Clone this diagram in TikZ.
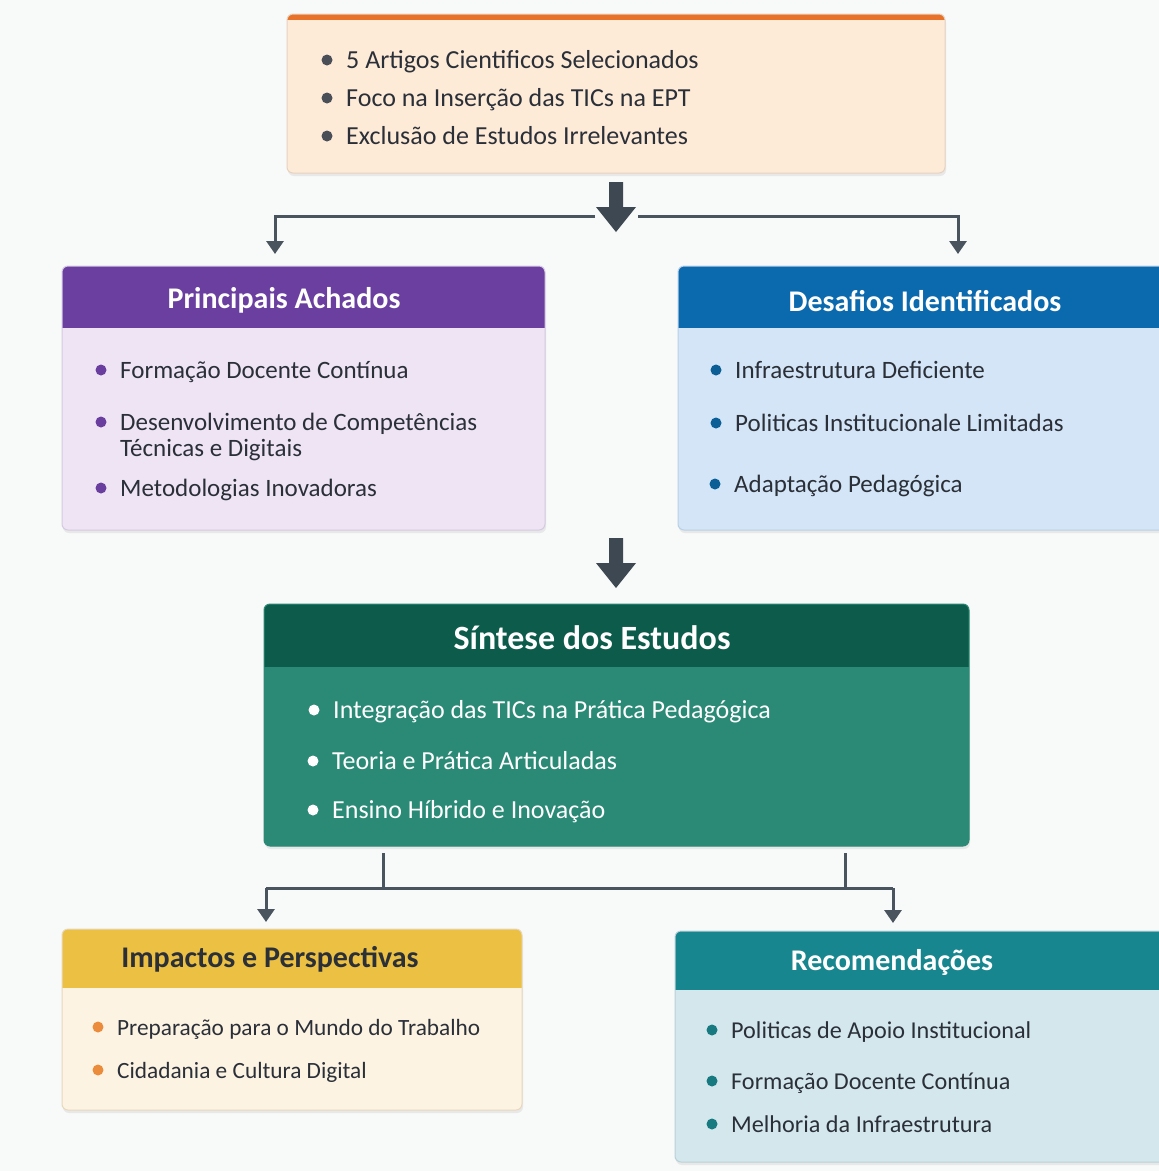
\documentclass[tikz,border=0pt]{standalone}
\usepackage{fontspec}
\setmainfont{Carlito}
\usetikzlibrary{arrows.meta,fit}
\definecolor{bgc}{HTML}{F8F9F9}
\definecolor{arrc}{HTML}{3E4852}
\definecolor{linec}{HTML}{4A545E}
\definecolor{txtc}{HTML}{2A2F38}
\definecolor{orbar}{HTML}{E8722A}
\definecolor{peach}{HTML}{FDEBD8}
\definecolor{peachb}{HTML}{E6D2C0}
\definecolor{purh}{HTML}{6B3FA0}
\definecolor{purb}{HTML}{EEE4F4}
\definecolor{purbd}{HTML}{D6C9E2}
\definecolor{purbul}{HTML}{6A3E9E}
\definecolor{bluh}{HTML}{0B6AAE}
\definecolor{blub}{HTML}{D3E5F6}
\definecolor{blubd}{HTML}{B9D0E6}
\definecolor{blubul}{HTML}{0B5E96}
\definecolor{grnh}{HTML}{0D5C4B}
\definecolor{grnb}{HTML}{2B8A76}
\definecolor{goldh}{HTML}{ECC042}
\definecolor{goldb}{HTML}{FDF3E2}
\definecolor{goldbd}{HTML}{E8D8BC}
\definecolor{orbul}{HTML}{EA8C3B}
\definecolor{tealh}{HTML}{17868E}
\definecolor{tealb}{HTML}{D3E7EC}
\definecolor{tealbd}{HTML}{B8D2D8}
\definecolor{tealbul}{HTML}{167A80}
\tikzset{
  ttl/.style={font=\fontsize{30}{34}\selectfont\bfseries, text=white, inner sep=0pt},
  itm/.style={font=\fontsize{25}{30}\selectfont, text=txtc, anchor=base west, inner sep=0pt},
  conn/.style={draw=linec, line width=3pt},
  connarr/.style={draw=linec, line width=3pt, -{Triangle[width=17pt,length=13pt]}},
}
\newcommand\setitemsize[1]{\tikzset{itm/.append style={font=\fontsize{#1}{30}\selectfont}}}
\newcommand\cardbox[9]{%
  \fill[black!9,rounded corners=6pt] (#2+1,#3+3) rectangle (#4+1,#5+3);
  \path (#2,#3) coordinate (#1-nw) (#4,#5) coordinate (#1-se);
  \node[fit=(#1-nw)(#1-se), inner sep=0pt, outer sep=0pt, fill=#7, rounded corners=6pt] (#1) {};
  \begin{scope}
    \clip[rounded corners=6pt] (#1.south west) rectangle (#1.north east);
    \fill[#8] (#1.north west) rectangle ([yshift=-#6pt]#1.north east);
  \end{scope}
  \draw[#9, line width=1pt, rounded corners=6pt] (#1.south west) rectangle (#1.north east);
}
\newcommand\bulit[5]{% name, bullet colour, x, y(center), text
  \fill[#2] (#3-19,#4) circle (5.5pt);
  \node[itm] (#1) at (#3,#4+8) {#5};
}
\newcommand\blockarr[3]{% x, ytop, ybot
  \fill[arrc] (#1-7,#2) -- (#1+7,#2) -- (#1+7,#3-25) -- (#1+20,#3-25) -- (#1,#3) -- (#1-20,#3-25) -- (#1-7,#3-25) -- cycle;
}
\begin{document}
\begin{tikzpicture}[x=1pt,y=-1pt]
\clip (0,0) rectangle (1159,1171);
\fill[bgc] (0,0) rectangle (1159,1171);

% top box
\cardbox{top}{287}{14}{945}{173}{6}{peach}{orbar}{peachb}
\setitemsize{26}
\bulit{t1}{txtc!85}{346}{60}{5 Artigos Cientificos Selecionados}
\bulit{t2}{txtc!85}{346}{98}{Foco na Inserção das TICs na EPT}
\bulit{t3}{txtc!85}{346}{136}{Exclusão de Estudos Irrelevantes}

% principais achados
\cardbox{pa}{62}{266}{545}{530}{62}{purb}{purh}{purbd}
\node[ttl] (pat) at (284,300) {Principais Achados};
\setitemsize{25}
\bulit{pa1}{purbul}{120}{370}{Formação Docente Contínua}
\bulit{pa2}{purbul}{120}{422}{Desenvolvimento de Competências}
\node[itm] (pa2b) at (120,456) {Técnicas e Digitais};
\bulit{pa3}{purbul}{120}{488}{Metodologias Inovadoras}

% desafios
\cardbox{de}{678}{266}{1175}{530}{62}{blub}{bluh}{blubd}
\node[ttl] (det) at (925,301) {Desafios Identificados};
\bulit{de1}{blubul}{735}{370}{Infraestrutura Deficiente}
\bulit{de2}{blubul}{735}{423}{Politicas Institucionale Limitadas}
\bulit{de3}{blubul}{734}{484}{Adaptação Pedagógica}

% sintese
\cardbox{si}{264}{604}{969}{846}{63}{grnb}{grnh}{grnb}
\node[ttl, font=\fontsize{34}{38}\selectfont\bfseries] (sit) at (592,638) {Síntese dos Estudos};
\setitemsize{26}
\tikzset{itm/.append style={text=white}}
\bulit{si1}{white}{333}{710}{Integração das TICs na Prática Pedagógica}
\bulit{si2}{white}{332}{761}{Teoria e Prática Articuladas}
\bulit{si3}{white}{332}{810}{Ensino Híbrido e Inovação}
\tikzset{itm/.append style={text=txtc}}

% impactos
\cardbox{im}{62}{929}{522}{1110}{59}{goldb}{goldh}{goldbd}
\node[ttl, text=txtc] (imt) at (270,959) {Impactos e Perspectivas};
\setitemsize{23.3}
\bulit{im1}{orbul}{117}{1027}{Preparação para o Mundo do Trabalho}
\bulit{im2}{orbul}{117}{1070}{Cidadania e Cultura Digital}

% recomendacoes
\cardbox{re}{675}{931}{1175}{1162}{59}{tealb}{tealh}{tealbd}
\node[ttl] (ret) at (892,962) {Recomendações};
\setitemsize{24.2}
\bulit{re1}{tealbul}{731}{1030}{Politicas de Apoio Institucional}
\bulit{re2}{tealbul}{731}{1081}{Formação Docente Contínua}
\bulit{re3}{tealbul}{731}{1124}{Melhoria da Infraestrutura}

% connectors top
\coordinate (splitL) at (595,216);
\coordinate (splitR) at (638,216);
\coordinate (paIn) at (275,254);
\coordinate (deIn) at (958,254);
\blockarr{616}{182}{232}
\draw[connarr] (splitL) -| (paIn);
\draw[connarr] (splitR) -| (deIn);

% middle arrow
\blockarr{616}{538}{588}

% connectors bottom
\coordinate (siL) at (383,853);
\coordinate (siR) at (845,853);
\coordinate (busL) at (266,888);
\coordinate (busR) at (893,888);
\coordinate (imIn) at (266,922);
\coordinate (reIn) at (893,923);
\draw[conn] (siL) -- (siL |- busL);
\draw[conn] (siR) -- (siR |- busR);
\draw[conn] (busL) -- (busR);
\draw[connarr] (busL) -- (imIn);
\draw[connarr] (busR) -- (reIn);
\end{tikzpicture}
\end{document}
